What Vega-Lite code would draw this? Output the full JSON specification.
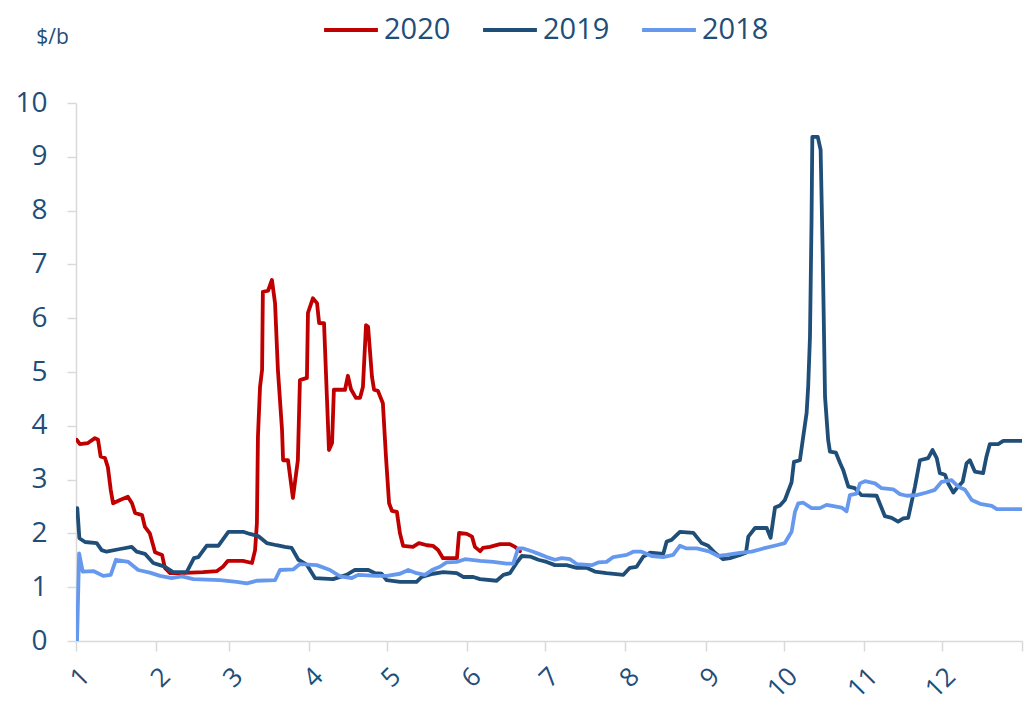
{
  "$schema": "https://vega.github.io/schema/vega-lite/v6.json",
  "width": 946,
  "height": 538,
  "autosize": {"type": "none"},
  "padding": {"left": 76, "top": 103, "right": 3, "bottom": 68},
  "config": {
    "view": {"stroke": null},
    "font": "Open Sans"
  },
  "data": {
    "values": [
      {"series": "2020", "day": 0.3, "v": 3.74},
      {"series": "2020", "day": 1.5, "v": 3.66},
      {"series": "2020", "day": 4.6, "v": 3.68},
      {"series": "2020", "day": 7.3, "v": 3.77},
      {"series": "2020", "day": 8.5, "v": 3.74},
      {"series": "2020", "day": 9.5, "v": 3.43},
      {"series": "2020", "day": 11.2, "v": 3.40},
      {"series": "2020", "day": 12.3, "v": 3.23},
      {"series": "2020", "day": 13.4, "v": 2.81},
      {"series": "2020", "day": 14.3, "v": 2.56},
      {"series": "2020", "day": 17.0, "v": 2.62},
      {"series": "2020", "day": 20.0, "v": 2.68},
      {"series": "2020", "day": 21.6, "v": 2.56},
      {"series": "2020", "day": 22.8, "v": 2.38},
      {"series": "2020", "day": 25.5, "v": 2.34},
      {"series": "2020", "day": 26.6, "v": 2.12},
      {"series": "2020", "day": 28.5, "v": 2.0},
      {"series": "2020", "day": 30.5, "v": 1.65},
      {"series": "2020", "day": 33.2, "v": 1.60},
      {"series": "2020", "day": 34.3, "v": 1.36},
      {"series": "2020", "day": 36.3, "v": 1.26},
      {"series": "2020", "day": 40.1, "v": 1.26},
      {"series": "2020", "day": 49.0, "v": 1.28},
      {"series": "2020", "day": 54.4, "v": 1.30},
      {"series": "2020", "day": 56.7, "v": 1.38},
      {"series": "2020", "day": 58.6, "v": 1.49},
      {"series": "2020", "day": 64.4, "v": 1.49},
      {"series": "2020", "day": 67.9, "v": 1.45},
      {"series": "2020", "day": 69.1, "v": 1.69},
      {"series": "2020", "day": 69.8, "v": 2.19},
      {"series": "2020", "day": 70.2, "v": 3.8},
      {"series": "2020", "day": 71.0, "v": 4.72},
      {"series": "2020", "day": 71.8, "v": 5.04},
      {"series": "2020", "day": 72.1, "v": 6.49},
      {"series": "2020", "day": 74.1, "v": 6.51},
      {"series": "2020", "day": 75.6, "v": 6.71},
      {"series": "2020", "day": 76.8, "v": 6.28},
      {"series": "2020", "day": 77.9, "v": 5.04},
      {"series": "2020", "day": 79.5, "v": 3.92},
      {"series": "2020", "day": 79.9, "v": 3.36},
      {"series": "2020", "day": 81.8, "v": 3.36},
      {"series": "2020", "day": 83.7, "v": 2.66},
      {"series": "2020", "day": 85.6, "v": 3.36},
      {"series": "2020", "day": 86.4, "v": 4.85},
      {"series": "2020", "day": 89.1, "v": 4.89},
      {"series": "2020", "day": 89.5, "v": 6.1},
      {"series": "2020", "day": 91.4, "v": 6.37},
      {"series": "2020", "day": 93.0, "v": 6.28},
      {"series": "2020", "day": 93.8, "v": 5.91},
      {"series": "2020", "day": 95.7, "v": 5.91},
      {"series": "2020", "day": 96.8, "v": 4.54},
      {"series": "2020", "day": 97.6, "v": 3.55},
      {"series": "2020", "day": 98.8, "v": 3.68},
      {"series": "2020", "day": 99.5, "v": 4.67},
      {"series": "2020", "day": 103.8, "v": 4.67},
      {"series": "2020", "day": 104.9, "v": 4.93},
      {"series": "2020", "day": 106.1, "v": 4.68},
      {"series": "2020", "day": 108.0, "v": 4.52},
      {"series": "2020", "day": 109.6, "v": 4.52},
      {"series": "2020", "day": 110.7, "v": 4.72},
      {"series": "2020", "day": 111.9, "v": 5.87},
      {"series": "2020", "day": 112.7, "v": 5.84},
      {"series": "2020", "day": 114.2, "v": 4.91},
      {"series": "2020", "day": 115.0, "v": 4.67},
      {"series": "2020", "day": 116.5, "v": 4.65},
      {"series": "2020", "day": 118.4, "v": 4.42},
      {"series": "2020", "day": 119.6, "v": 3.42},
      {"series": "2020", "day": 120.8, "v": 2.56},
      {"series": "2020", "day": 121.9, "v": 2.42},
      {"series": "2020", "day": 123.8, "v": 2.4},
      {"series": "2020", "day": 125.0, "v": 2.0},
      {"series": "2020", "day": 126.2, "v": 1.77},
      {"series": "2020", "day": 130.0, "v": 1.75},
      {"series": "2020", "day": 132.3, "v": 1.82},
      {"series": "2020", "day": 135.4, "v": 1.78},
      {"series": "2020", "day": 137.7, "v": 1.77},
      {"series": "2020", "day": 139.7, "v": 1.69},
      {"series": "2020", "day": 141.6, "v": 1.54},
      {"series": "2020", "day": 147.0, "v": 1.54},
      {"series": "2020", "day": 147.8, "v": 2.01},
      {"series": "2020", "day": 150.8, "v": 1.99},
      {"series": "2020", "day": 152.8, "v": 1.94},
      {"series": "2020", "day": 153.9, "v": 1.75},
      {"series": "2020", "day": 155.9, "v": 1.67},
      {"series": "2020", "day": 157.0, "v": 1.73},
      {"series": "2020", "day": 159.7, "v": 1.75},
      {"series": "2020", "day": 163.6, "v": 1.80},
      {"series": "2020", "day": 167.4, "v": 1.80},
      {"series": "2020", "day": 169.4, "v": 1.75},
      {"series": "2020", "day": 171.3, "v": 1.67},

      {"series": "2019", "day": 0.5, "v": 2.47},
      {"series": "2019", "day": 1.3, "v": 1.91},
      {"series": "2019", "day": 3.5, "v": 1.84},
      {"series": "2019", "day": 8.0, "v": 1.82},
      {"series": "2019", "day": 9.9, "v": 1.69},
      {"series": "2019", "day": 11.8, "v": 1.66},
      {"series": "2019", "day": 17.0, "v": 1.71},
      {"series": "2019", "day": 21.5, "v": 1.75},
      {"series": "2019", "day": 23.4, "v": 1.66},
      {"series": "2019", "day": 26.6, "v": 1.62},
      {"series": "2019", "day": 29.8, "v": 1.45},
      {"series": "2019", "day": 32.4, "v": 1.41},
      {"series": "2019", "day": 34.3, "v": 1.38},
      {"series": "2019", "day": 37.5, "v": 1.28},
      {"series": "2019", "day": 42.7, "v": 1.28},
      {"series": "2019", "day": 45.5, "v": 1.54},
      {"series": "2019", "day": 47.2, "v": 1.56},
      {"series": "2019", "day": 50.4, "v": 1.77},
      {"series": "2019", "day": 54.9, "v": 1.77},
      {"series": "2019", "day": 58.8, "v": 2.03},
      {"series": "2019", "day": 64.5, "v": 2.03},
      {"series": "2019", "day": 67.1, "v": 1.99},
      {"series": "2019", "day": 70.3, "v": 1.95},
      {"series": "2019", "day": 73.6, "v": 1.82},
      {"series": "2019", "day": 77.4, "v": 1.78},
      {"series": "2019", "day": 80.6, "v": 1.75},
      {"series": "2019", "day": 83.2, "v": 1.73},
      {"series": "2019", "day": 85.8, "v": 1.51},
      {"series": "2019", "day": 89.0, "v": 1.42},
      {"series": "2019", "day": 92.2, "v": 1.17},
      {"series": "2019", "day": 99.2, "v": 1.15},
      {"series": "2019", "day": 104.4, "v": 1.23},
      {"series": "2019", "day": 107.6, "v": 1.32},
      {"series": "2019", "day": 112.8, "v": 1.32},
      {"series": "2019", "day": 115.4, "v": 1.26},
      {"series": "2019", "day": 117.9, "v": 1.25},
      {"series": "2019", "day": 119.9, "v": 1.13},
      {"series": "2019", "day": 125.0, "v": 1.10},
      {"series": "2019", "day": 131.4, "v": 1.10},
      {"series": "2019", "day": 133.4, "v": 1.19},
      {"series": "2019", "day": 137.8, "v": 1.25},
      {"series": "2019", "day": 141.7, "v": 1.28},
      {"series": "2019", "day": 146.9, "v": 1.26},
      {"series": "2019", "day": 149.4, "v": 1.19},
      {"series": "2019", "day": 153.3, "v": 1.19},
      {"series": "2019", "day": 155.9, "v": 1.15},
      {"series": "2019", "day": 162.3, "v": 1.12},
      {"series": "2019", "day": 164.9, "v": 1.23},
      {"series": "2019", "day": 167.4, "v": 1.26},
      {"series": "2019", "day": 170.0, "v": 1.45},
      {"series": "2019", "day": 172.0, "v": 1.58},
      {"series": "2019", "day": 175.2, "v": 1.57},
      {"series": "2019", "day": 178.4, "v": 1.51},
      {"series": "2019", "day": 181.6, "v": 1.47},
      {"series": "2019", "day": 184.8, "v": 1.41},
      {"series": "2019", "day": 189.3, "v": 1.41},
      {"series": "2019", "day": 193.2, "v": 1.36},
      {"series": "2019", "day": 197.0, "v": 1.36},
      {"series": "2019", "day": 200.2, "v": 1.29},
      {"series": "2019", "day": 204.7, "v": 1.26},
      {"series": "2019", "day": 211.2, "v": 1.23},
      {"series": "2019", "day": 213.7, "v": 1.36},
      {"series": "2019", "day": 216.3, "v": 1.38},
      {"series": "2019", "day": 218.9, "v": 1.57},
      {"series": "2019", "day": 221.5, "v": 1.64},
      {"series": "2019", "day": 226.6, "v": 1.62},
      {"series": "2019", "day": 227.9, "v": 1.85},
      {"series": "2019", "day": 229.8, "v": 1.88},
      {"series": "2019", "day": 233.0, "v": 2.03},
      {"series": "2019", "day": 238.2, "v": 2.01},
      {"series": "2019", "day": 241.4, "v": 1.82},
      {"series": "2019", "day": 243.9, "v": 1.77},
      {"series": "2019", "day": 246.5, "v": 1.64},
      {"series": "2019", "day": 249.7, "v": 1.52},
      {"series": "2019", "day": 252.3, "v": 1.54},
      {"series": "2019", "day": 256.2, "v": 1.60},
      {"series": "2019", "day": 258.5, "v": 1.64},
      {"series": "2019", "day": 259.4, "v": 1.94},
      {"series": "2019", "day": 262.0, "v": 2.10},
      {"series": "2019", "day": 266.5, "v": 2.10},
      {"series": "2019", "day": 268.0, "v": 1.92},
      {"series": "2019", "day": 269.7, "v": 2.48},
      {"series": "2019", "day": 271.6, "v": 2.52},
      {"series": "2019", "day": 273.5, "v": 2.62},
      {"series": "2019", "day": 276.1, "v": 2.95},
      {"series": "2019", "day": 277.0, "v": 3.33},
      {"series": "2019", "day": 279.3, "v": 3.36},
      {"series": "2019", "day": 280.6, "v": 3.80},
      {"series": "2019", "day": 281.9, "v": 4.24},
      {"series": "2019", "day": 282.5, "v": 4.73},
      {"series": "2019", "day": 283.2, "v": 5.66},
      {"series": "2019", "day": 283.8, "v": 7.83},
      {"series": "2019", "day": 284.1, "v": 9.37},
      {"series": "2019", "day": 286.2, "v": 9.37},
      {"series": "2019", "day": 287.3, "v": 9.13},
      {"series": "2019", "day": 288.1, "v": 7.21},
      {"series": "2019", "day": 289.0, "v": 4.54},
      {"series": "2019", "day": 290.2, "v": 3.74},
      {"series": "2019", "day": 290.9, "v": 3.52},
      {"series": "2019", "day": 293.2, "v": 3.50},
      {"series": "2019", "day": 294.8, "v": 3.31},
      {"series": "2019", "day": 296.0, "v": 3.18},
      {"series": "2019", "day": 298.0, "v": 2.87},
      {"series": "2019", "day": 300.5, "v": 2.84},
      {"series": "2019", "day": 303.1, "v": 2.71},
      {"series": "2019", "day": 308.9, "v": 2.70},
      {"series": "2019", "day": 312.1, "v": 2.32},
      {"series": "2019", "day": 314.7, "v": 2.29},
      {"series": "2019", "day": 317.2, "v": 2.22},
      {"series": "2019", "day": 319.2, "v": 2.28},
      {"series": "2019", "day": 321.1, "v": 2.29},
      {"series": "2019", "day": 323.7, "v": 2.87},
      {"series": "2019", "day": 325.6, "v": 3.36},
      {"series": "2019", "day": 328.8, "v": 3.40},
      {"series": "2019", "day": 330.5, "v": 3.55},
      {"series": "2019", "day": 332.1, "v": 3.40},
      {"series": "2019", "day": 333.3, "v": 3.12},
      {"series": "2019", "day": 335.3, "v": 3.09},
      {"series": "2019", "day": 336.5, "v": 2.93},
      {"series": "2019", "day": 338.5, "v": 2.76},
      {"series": "2019", "day": 339.8, "v": 2.84},
      {"series": "2019", "day": 342.1, "v": 2.96},
      {"series": "2019", "day": 343.6, "v": 3.30},
      {"series": "2019", "day": 344.9, "v": 3.36},
      {"series": "2019", "day": 346.8, "v": 3.15},
      {"series": "2019", "day": 350.0, "v": 3.12},
      {"series": "2019", "day": 351.3, "v": 3.43},
      {"series": "2019", "day": 352.6, "v": 3.66},
      {"series": "2019", "day": 355.8, "v": 3.66},
      {"series": "2019", "day": 357.8, "v": 3.72},
      {"series": "2019", "day": 365.0, "v": 3.72},

      {"series": "2018", "day": 0.4, "v": 0},
      {"series": "2018", "day": 1.2, "v": 1.63},
      {"series": "2018", "day": 2.6, "v": 1.29},
      {"series": "2018", "day": 6.7, "v": 1.30},
      {"series": "2018", "day": 10.5, "v": 1.21},
      {"series": "2018", "day": 13.4, "v": 1.23},
      {"series": "2018", "day": 15.4, "v": 1.51},
      {"series": "2018", "day": 20.2, "v": 1.47},
      {"series": "2018", "day": 24.0, "v": 1.32},
      {"series": "2018", "day": 28.5, "v": 1.27},
      {"series": "2018", "day": 32.4, "v": 1.21},
      {"series": "2018", "day": 36.9, "v": 1.17},
      {"series": "2018", "day": 40.8, "v": 1.20},
      {"series": "2018", "day": 45.3, "v": 1.15},
      {"series": "2018", "day": 55.6, "v": 1.13},
      {"series": "2018", "day": 62.0, "v": 1.10},
      {"series": "2018", "day": 65.9, "v": 1.07},
      {"series": "2018", "day": 69.7, "v": 1.12},
      {"series": "2018", "day": 76.8, "v": 1.13},
      {"series": "2018", "day": 78.7, "v": 1.32},
      {"series": "2018", "day": 83.8, "v": 1.33},
      {"series": "2018", "day": 86.4, "v": 1.43},
      {"series": "2018", "day": 92.9, "v": 1.41},
      {"series": "2018", "day": 98.0, "v": 1.32},
      {"series": "2018", "day": 101.9, "v": 1.20},
      {"series": "2018", "day": 106.4, "v": 1.17},
      {"series": "2018", "day": 108.9, "v": 1.23},
      {"series": "2018", "day": 116.0, "v": 1.21},
      {"series": "2018", "day": 119.9, "v": 1.21},
      {"series": "2018", "day": 125.0, "v": 1.25},
      {"series": "2018", "day": 128.2, "v": 1.32},
      {"series": "2018", "day": 131.4, "v": 1.26},
      {"series": "2018", "day": 134.6, "v": 1.23},
      {"series": "2018", "day": 137.8, "v": 1.33},
      {"series": "2018", "day": 140.4, "v": 1.38},
      {"series": "2018", "day": 143.0, "v": 1.46},
      {"series": "2018", "day": 146.9, "v": 1.47},
      {"series": "2018", "day": 150.1, "v": 1.52},
      {"series": "2018", "day": 155.9, "v": 1.49},
      {"series": "2018", "day": 161.0, "v": 1.47},
      {"series": "2018", "day": 166.2, "v": 1.44},
      {"series": "2018", "day": 168.7, "v": 1.44},
      {"series": "2018", "day": 170.6, "v": 1.72},
      {"series": "2018", "day": 172.6, "v": 1.72},
      {"series": "2018", "day": 176.4, "v": 1.66},
      {"series": "2018", "day": 179.0, "v": 1.61},
      {"series": "2018", "day": 181.6, "v": 1.56},
      {"series": "2018", "day": 184.8, "v": 1.51},
      {"series": "2018", "day": 187.4, "v": 1.54},
      {"series": "2018", "day": 190.6, "v": 1.52},
      {"series": "2018", "day": 193.2, "v": 1.43},
      {"series": "2018", "day": 199.0, "v": 1.41},
      {"series": "2018", "day": 201.5, "v": 1.46},
      {"series": "2018", "day": 204.7, "v": 1.47},
      {"series": "2018", "day": 207.3, "v": 1.56},
      {"series": "2018", "day": 212.5, "v": 1.60},
      {"series": "2018", "day": 215.0, "v": 1.66},
      {"series": "2018", "day": 218.2, "v": 1.66},
      {"series": "2018", "day": 222.1, "v": 1.58},
      {"series": "2018", "day": 226.6, "v": 1.56},
      {"series": "2018", "day": 230.4, "v": 1.60},
      {"series": "2018", "day": 233.0, "v": 1.77},
      {"series": "2018", "day": 235.6, "v": 1.72},
      {"series": "2018", "day": 239.5, "v": 1.72},
      {"series": "2018", "day": 244.6, "v": 1.66},
      {"series": "2018", "day": 247.8, "v": 1.58},
      {"series": "2018", "day": 251.0, "v": 1.60},
      {"series": "2018", "day": 256.2, "v": 1.64},
      {"series": "2018", "day": 260.7, "v": 1.66},
      {"series": "2018", "day": 265.2, "v": 1.72},
      {"series": "2018", "day": 270.3, "v": 1.78},
      {"series": "2018", "day": 273.5, "v": 1.82},
      {"series": "2018", "day": 276.1, "v": 2.03},
      {"series": "2018", "day": 277.4, "v": 2.40},
      {"series": "2018", "day": 278.7, "v": 2.56},
      {"series": "2018", "day": 280.6, "v": 2.57},
      {"series": "2018", "day": 283.8, "v": 2.47},
      {"series": "2018", "day": 287.0, "v": 2.47},
      {"series": "2018", "day": 289.6, "v": 2.53},
      {"series": "2018", "day": 295.4, "v": 2.48},
      {"series": "2018", "day": 297.3, "v": 2.41},
      {"series": "2018", "day": 298.6, "v": 2.71},
      {"series": "2018", "day": 301.2, "v": 2.74},
      {"series": "2018", "day": 302.5, "v": 2.93},
      {"series": "2018", "day": 304.4, "v": 2.97},
      {"series": "2018", "day": 308.3, "v": 2.93},
      {"series": "2018", "day": 310.8, "v": 2.84},
      {"series": "2018", "day": 315.3, "v": 2.82},
      {"series": "2018", "day": 317.9, "v": 2.73},
      {"series": "2018", "day": 320.5, "v": 2.70},
      {"series": "2018", "day": 324.3, "v": 2.71},
      {"series": "2018", "day": 328.2, "v": 2.76},
      {"series": "2018", "day": 331.4, "v": 2.81},
      {"series": "2018", "day": 334.0, "v": 2.96},
      {"series": "2018", "day": 337.8, "v": 2.99},
      {"series": "2018", "day": 340.4, "v": 2.87},
      {"series": "2018", "day": 343.0, "v": 2.81},
      {"series": "2018", "day": 345.6, "v": 2.62},
      {"series": "2018", "day": 348.8, "v": 2.55},
      {"series": "2018", "day": 353.3, "v": 2.51},
      {"series": "2018", "day": 355.3, "v": 2.45},
      {"series": "2018", "day": 365.0, "v": 2.45}
    ]
  },
  "mark": {"type": "line", "strokeWidth": 3.8, "strokeJoin": "round", "strokeCap": "round", "clip": true},
  "encoding": {
    "x": {
      "field": "day",
      "type": "quantitative",
      "scale": {"domain": [0, 365], "nice": false, "zero": false},
      "axis": {
        "title": null,
        "grid": false,
        "values": [0, 31, 59, 90, 120, 151, 181, 212, 243, 273, 304, 334, 365],
        "labelExpr": "datum.value == 365 ? '' : '' + (indexof([0, 31, 59, 90, 120, 151, 181, 212, 243, 273, 304, 334], datum.value) + 1)",
        "labelAngle": -45,
        "labelFontSize": 26,
        "labelColor": "#1F4E79",
        "labelPadding": 12,
        "labelFlush": false,
        "labelOverlap": false,
        "domainColor": "#D9D9D9",
        "domainWidth": 1.5,
        "tickColor": "#D9D9D9",
        "tickWidth": 1.5,
        "tickSize": 10
      }
    },
    "y": {
      "field": "v",
      "type": "quantitative",
      "scale": {"domain": [0, 10], "nice": false},
      "axis": {
        "title": "$/b",
        "titleAngle": 0,
        "titleX": -24,
        "titleY": -66,
        "titleAlign": "center",
        "titleBaseline": "middle",
        "titleFontSize": 21,
        "titleFontWeight": "normal",
        "titleColor": "#1F4E79",
        "grid": false,
        "values": [0, 1, 2, 3, 4, 5, 6, 7, 8, 9, 10],
        "labelFontSize": 28,
        "labelColor": "#1F4E79",
        "labelPadding": 20,
        "domainColor": "#D9D9D9",
        "domainWidth": 1.5,
        "tickColor": "#D9D9D9",
        "tickWidth": 1.5,
        "tickSize": 9
      }
    },
    "color": {
      "field": "series",
      "type": "nominal",
      "scale": {"domain": ["2020", "2019", "2018"], "range": ["#C00000", "#1F4E79", "#6699EE"]},
      "legend": {
        "title": null,
        "orient": "none",
        "direction": "horizontal",
        "legendX": 246,
        "legendY": -102,
        "symbolType": "stroke",
        "symbolStrokeWidth": 4,
        "symbolSize": 2900,
        "labelFontSize": 29,
        "labelColor": "#1F4E79",
        "labelOffset": 4,
        "columnPadding": 24
      }
    }
  }
}
